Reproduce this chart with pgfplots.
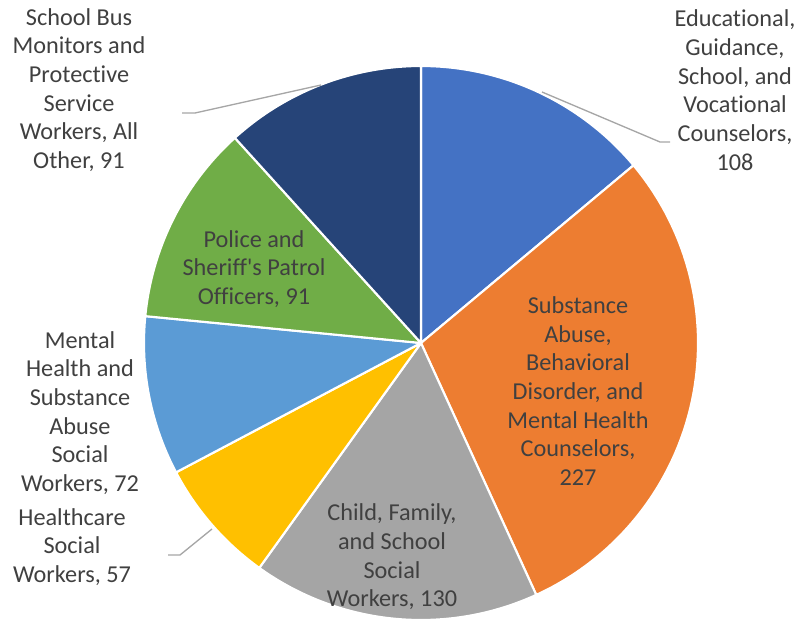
\documentclass[border=0pt]{standalone}
\usepackage{fontspec}
\setmainfont{Carlito}[Ligatures={NoCommon}]
\usepackage{pgfplots}
\pgfplotsset{compat=1.18}
\definecolor{c1}{HTML}{4472C4}
\definecolor{c2}{HTML}{ED7D31}
\definecolor{c3}{HTML}{A5A5A5}
\definecolor{c4}{HTML}{FFC000}
\definecolor{c5}{HTML}{5B9BD5}
\definecolor{c6}{HTML}{70AD47}
\definecolor{c7}{HTML}{264478}
\definecolor{txt}{HTML}{404040}
\definecolor{lead}{HTML}{A6A6A6}
\tikzset{lbl/.style={font=\fontsize{18.2}{21.5}\selectfont, text=txt, align=center, inner sep=0pt}}
\newcommand\cum{0}
\newcommand\total{776}
\newcommand\slice[2]{%
  \pgfmathsetmacro\sa{90-\cum/\total*360}%
  \pgfmathsetmacro\newcum{\cum+#1}%
  \pgfmathsetmacro\sb{90-\newcum/\total*360}%
  \global\let\cum\newcum
  \edef\temp{\noexpand\addplot[fill=#2,draw=white,line width=1.6pt,line join=round,domain=\sb:\sa,samples=90] ({421+277*cos(x)},{279+277*sin(x)}) -- (421,279) -- cycle;}%
  \temp}
\begin{document}
\begin{tikzpicture}
\begin{axis}[
  x=0.75pt, y=0.75pt,
  xmin=0, xmax=800, ymin=0, ymax=622,
  hide axis, clip=false,
]
\path (0,0) rectangle (800,622);
% values clockwise from top
\slice{108}{c1}
\slice{227}{c2}
\slice{130}{c3}
\slice{57}{c4}
\slice{72}{c5}
\slice{91}{c6}
\slice{91}{c7}
% leader lines
\addplot[lead, line width=1pt] coordinates {(182,509) (195,509) (321,537)};
\addplot[lead, line width=1pt] coordinates {(542,530) (660,480) (670,480)};
\addplot[lead, line width=1pt] coordinates {(168,67) (180,67) (212,93)};
% labels
\node[lbl] at (79,532) {School Bus\\Monitors and\\Protective\\Service\\Workers, All\\Other, 91};
\node[lbl] at (735,532) {Educational,\\Guidance,\\School, and\\Vocational\\Counselors,\\108};
\node[lbl] at (578,231) {Substance\\Abuse,\\Behavioral\\Disorder, and\\Mental Health\\Counselors,\\227};
\node[lbl] at (392,65) {Child, Family,\\and School\\Social\\Workers, 130};
\node[lbl] at (72,75) {Healthcare\\Social\\Workers, 57};
\node[lbl] at (80,209) {Mental\\Health and\\Substance\\Abuse\\Social\\Workers, 72};
\node[lbl] at (254,353) {Police and\\Sheriff\textquotesingle s Patrol\\Officers, 91};
\end{axis}
\end{tikzpicture}
\end{document}
